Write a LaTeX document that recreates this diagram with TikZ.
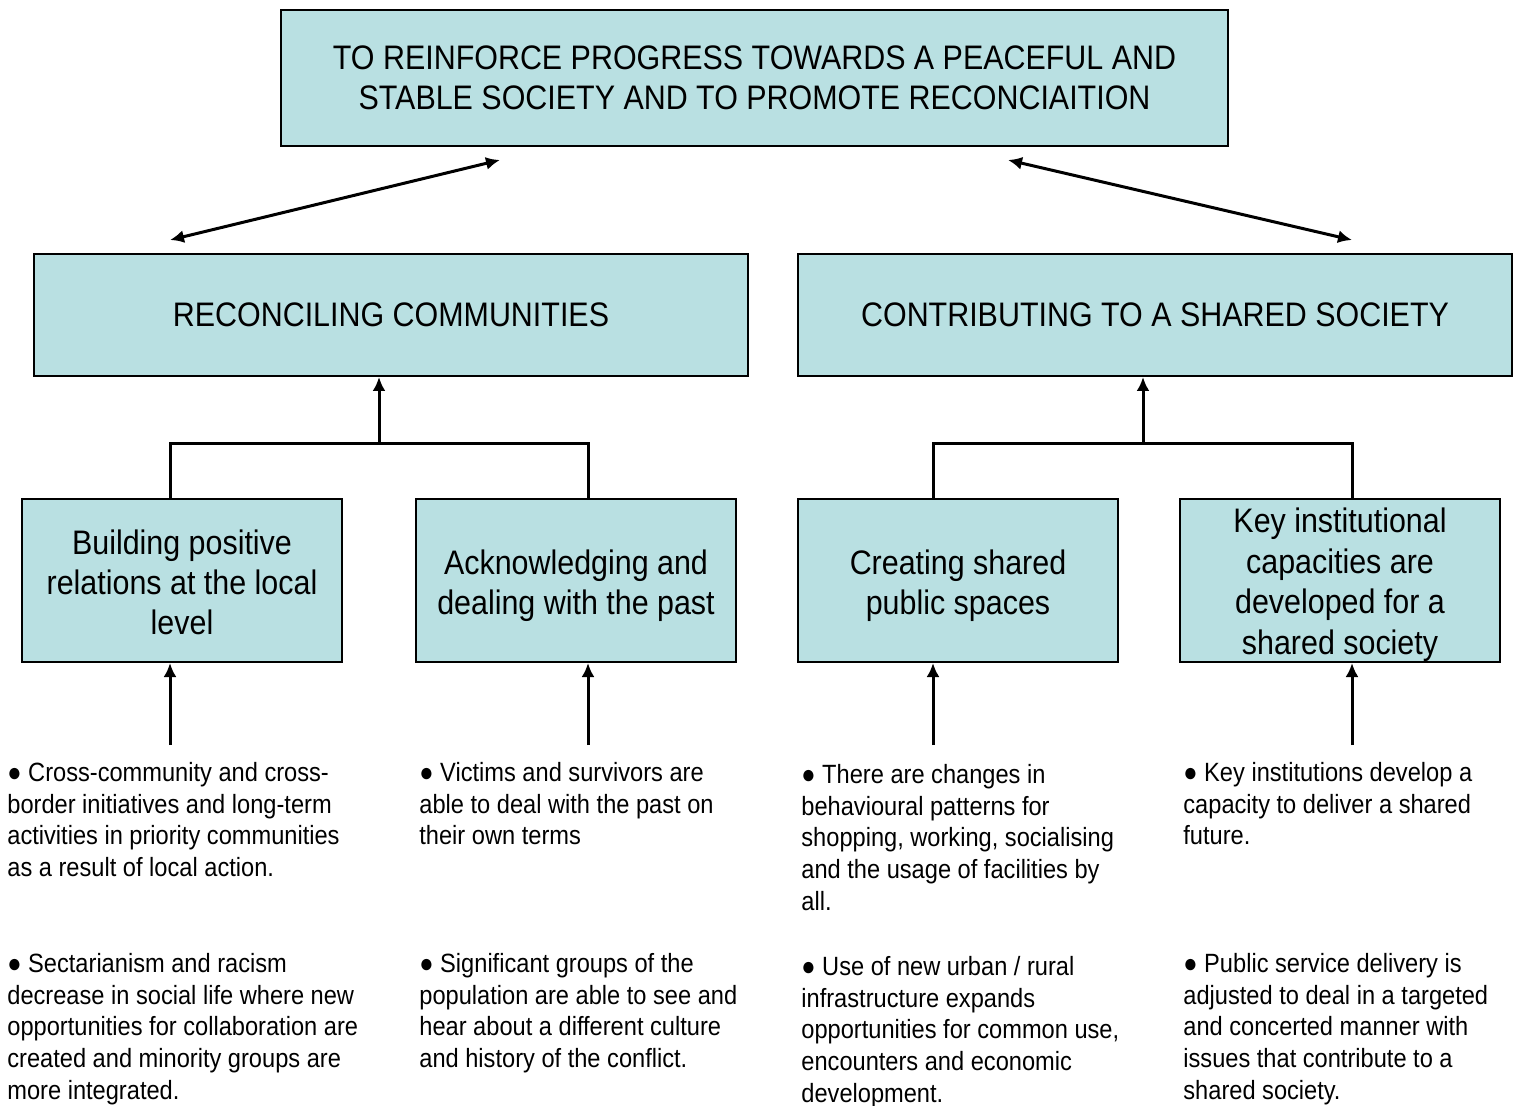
\documentclass[tikz,border=0pt]{standalone}
\usepackage{fontspec}
\setmainfont[FakeStretch=0.895]{Liberation Sans}
\usetikzlibrary{arrows.meta}
\tikzset{>={Latex[length=7pt,width=6.5pt]}}
\definecolor{boxblue}{RGB}{185,224,226}
\def\boxfont{\fontsize{17}{20}\selectfont}
\def\notefont{\fontsize{13.2}{15.85}\selectfont}
\def\pushdown#1{\rule{0pt}{#1}}
\tikzset{
  box/.style={draw=black, line width=1pt, fill=boxblue, inner sep=0pt, align=center, font=\boxfont},
  goal/.style={box, minimum width=473.5pt, minimum height=68pt},
  theme/.style={box, minimum width=357pt, minimum height=61pt},
  outcome/.style={box, minimum width=160pt, minimum height=81.5pt},
  note/.style={anchor=north west, inner sep=0pt, align=left, font=\notefont},
  link/.style={line width=1.5pt}
}

\begin{document}
\begin{tikzpicture}[x=0.5pt, y=-0.5pt]
   \useasboundingbox (0, 0) rectangle (1514, 1106);

   % boxes
   \node[goal] (goal) at (754.5, 78) {TO REINFORCE PROGRESS TOWARDS A PEACEFUL AND\\STABLE SOCIETY AND TO PROMOTE RECONCIAITION};

   \node[theme] (reconcile) at (391, 315) {\raisebox{-1pt}{RECONCILING COMMUNITIES}};
   \node[theme] (shared) at (1155, 315) {\raisebox{-1pt}{CONTRIBUTING TO A SHARED SOCIETY}};

   \node[outcome] (local) at (182, 580.5) {\pushdown{14pt}Building positive\\relations at the local\\level};
   \node[outcome] (past) at (576, 580.5) {\pushdown{18pt}Acknowledging and\\dealing with the past};
   \node[outcome] (spaces) at (958, 580.5) {\pushdown{18pt}Creating shared\\public spaces};
   \node[outcome, font=\fontsize{17}{20.35}\selectfont] (capacity) at (1340, 580.5) {\pushdown{16.5pt}Key institutional\\capacities are\\developed for a\\shared society};

   % links between the levels
   \coordinate (goalL) at (500, 160);
   \coordinate (goalR) at (1008, 160);
   \coordinate (reconcileT) at (170, 240);
   \coordinate (sharedT) at (1352, 240);
   \draw[<->, link] (reconcileT) -- (goalL);
   \draw[<->, link] (goalR) -- (sharedT);

   \coordinate (forkL) at (379, 444);
   \coordinate (forkR) at (1143, 444);
   \draw[->, link] (forkL) -- (forkL |- reconcile.south);
   \draw[link] (local.north -| 170, 0) -- (170, 444) -- (588, 444) -- (past.north -| 588, 0);
   \draw[->, link] (forkR) -- (forkR |- shared.south);
   \draw[link] (spaces.north -| 933, 0) -- (933, 444) -- (1352, 444) -- (capacity.north -| 1352, 0);

   \foreach \x/\b in {170/local, 588/past, 933/spaces, 1352/capacity}{
        \coordinate (\b-in) at (\x, 745);
        \draw[->, link] (\b-in) -- (\b-in |- \b.south);
   }

   % indicators
   \node[note] (local1) at (7, 762) {● Cross-community and cross-\\border initiatives and long-term\\activities in priority communities\\as a result of local action.};
   \node[note] (local2) at (7, 953) {● Sectarianism and racism\\decrease in social life where new\\opportunities for collaboration are\\created and minority groups are\\more integrated.};

   \node[note] (past1) at (419, 762) {● Victims and survivors are\\able to deal with the past on\\their own terms};
   \node[note] (past2) at (419, 953) {● Significant groups of the\\population are able to see and\\hear about a different culture\\and history of the conflict.};

   \node[note] (spaces1) at (801, 764) {● There are changes in\\behavioural patterns for\\shopping, working, socialising\\and the usage of facilities by\\all.};
   \node[note] (spaces2) at (801, 956) {● Use of new urban / rural\\infrastructure expands\\opportunities for common use,\\encounters and economic\\development.};

   \node[note] (capacity1) at (1183, 762) {● Key institutions develop a\\capacity to deliver a shared\\future.};
   \node[note] (capacity2) at (1183, 953) {● Public service delivery is\\adjusted to deal in a targeted\\and concerted manner with\\issues that contribute to a\\shared society.};

\end{tikzpicture}
\end{document}
